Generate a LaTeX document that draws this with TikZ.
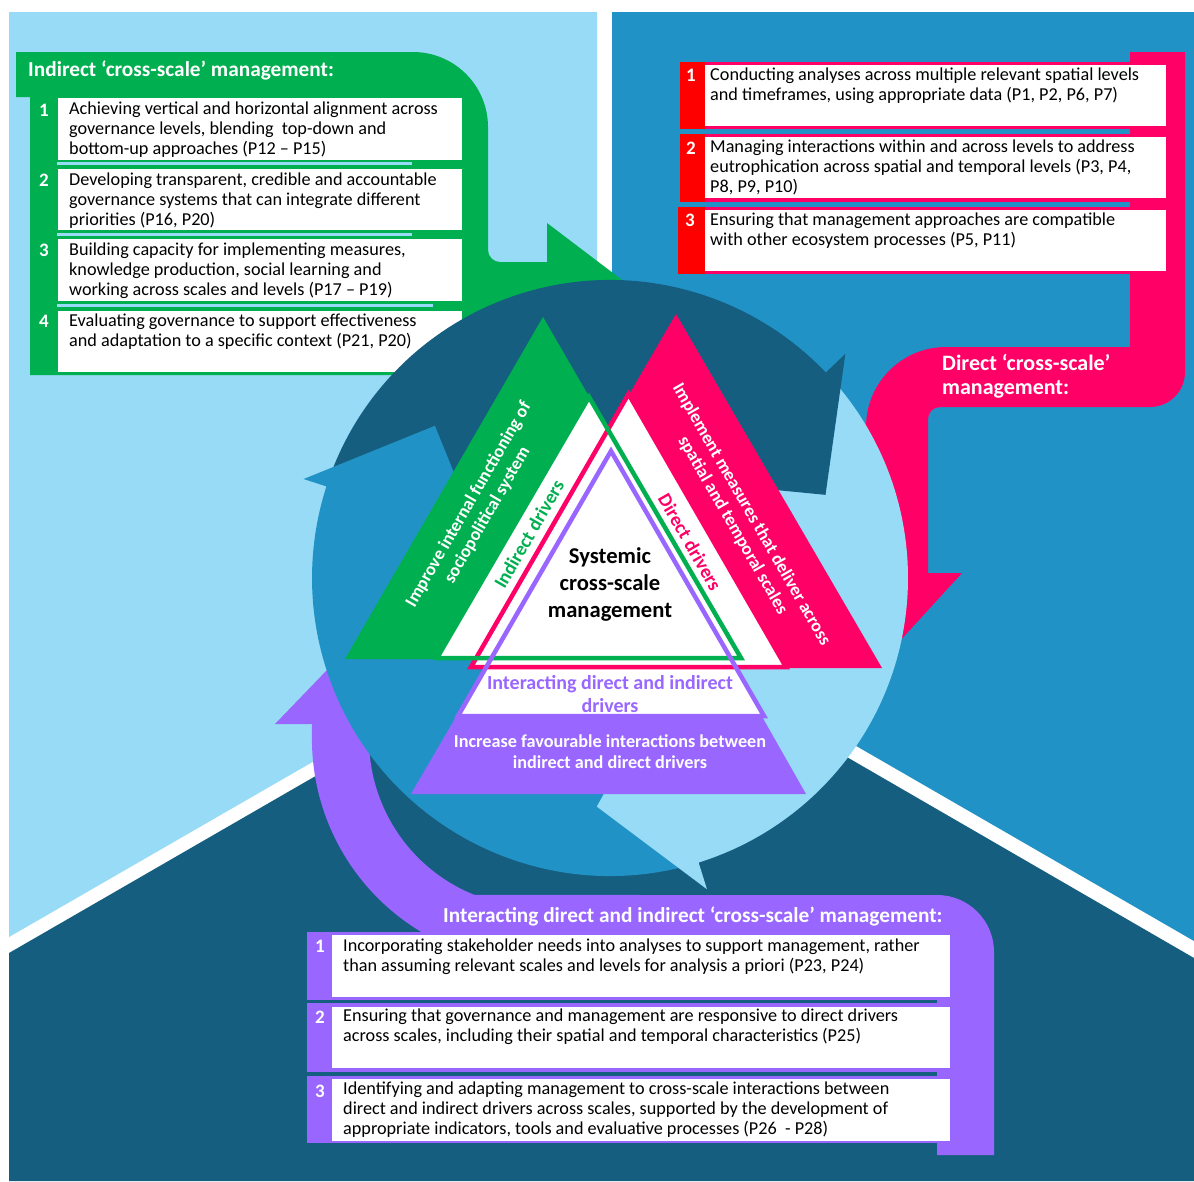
\documentclass[tikz,border=0pt]{standalone}
\usepackage{fontspec}
\setmainfont{Carlito}
\usetikzlibrary{calc}

\definecolor{lightbg}{HTML}{97DBF6}
\definecolor{midbg}{HTML}{2192C6}
\definecolor{darkbg}{HTML}{165E80}
\definecolor{grn}{HTML}{00B050}
\definecolor{pnk}{HTML}{FF0066}
\definecolor{numred}{HTML}{FF0000}
\definecolor{prp}{HTML}{9966FF}

\newcommand\cbody{\fontsize{18.2}{20}\selectfont}
\newcommand\chead{\fontsize{21.3}{24}\selectfont\bfseries}
\newcommand\cpinkhead{\fontsize{22}{24}\selectfont\bfseries}
\newcommand\cnum{\fontsize{19}{20}\selectfont\bfseries}
\newcommand\cside{\fontsize{18}{21.5}\selectfont\bfseries}
\newcommand\cdriver{\fontsize{19.3}{22}\selectfont\bfseries}

\begin{document}
\begin{tikzpicture}[x=1pt,y=-1pt,
  boxtext/.style={anchor=north west, inner sep=0pt, align=left, font=\cbody, text=black},
  numtext/.style={anchor=base, inner sep=0pt, font=\cnum, text=white},
  headtext/.style={inner sep=0pt, align=left, font=\chead, text=white},
  sidetext/.style={inner sep=0pt, align=center, font=\cside, text=white},
  drivertext/.style={inner sep=0pt, align=center, font=\cdriver},
  sepline/.style={draw=lightbg, line width=2.5},
  outline/.style={line width=4.5, line join=miter},
]
\useasboundingbox (0,0) rectangle (1194,1181);

% ---------- background: three regions split by white stripes ----------
\fill[white] (0,0) rectangle (1194,1181);
\fill[lightbg] (9,12) -- (597,12) -- (597,598) -- (9,937) -- cycle;
\fill[midbg] (612,12) -- (1194,12) -- (1194,941) -- (612,605) -- cycle;
\fill[darkbg] (9,953) -- (598,613) -- (1194,958) -- (1194,1181) -- (9,1181) -- cycle;

% ---------- indirect management panel (green) ----------
\fill[grn] (16,52) -- (413,52) arc[start angle=270, end angle=360, radius=75]
  -- (488,250) arc[start angle=180, end angle=90, radius=12]
  -- (547,262) -- (547,223) -- (638,292) -- (547,361) -- (547,322)
  -- (470,322) -- (470,375) -- (30,375) -- (30,97) -- (16,97) -- cycle;
\node[headtext, anchor=base west] (ghead) at (28,76.5) {Indirect ‘cross-scale’ management:};

\fill[white] (58,98) rectangle (462,160);
\fill[white] (58,169) rectangle (462,230);
\fill[white] (58,239) rectangle (462,301);
\fill[white] (58,311) rectangle (462,372);
\draw[sepline] (57,163.5) -- (412,163.5);
\draw[sepline] (57,234.5) -- (412,234.5);
\draw[sepline] (57,305.5) -- (433,305.5);

\node[numtext] (gn1) at (44,116) {1};
\node[numtext] (gn2) at (44,186) {2};
\node[numtext] (gn3) at (44,256.5) {3};
\node[numtext] (gn4) at (44,327.5) {4};

\node[boxtext] (gt1) at (69,100.5) {\strut Achieving vertical and horizontal alignment across\\governance levels, blending~ top-down and\\bottom-up approaches (P12 – P15)};
\node[boxtext] (gt2) at (69,171) {\strut Developing transparent, credible and accountable\\governance systems that can integrate different\\priorities (P16, P20)};
\node[boxtext] (gt3) at (69,241) {\strut Building capacity for implementing measures,\\knowledge production, social learning and\\working across scales and levels (P17 – P19)};
\node[boxtext] (gt4) at (69,312) {\strut Evaluating governance to support effectiveness\\and adaptation to a specific context (P21, P20)};

% ---------- direct management panel (pink) ----------
\fill[pnk] (1130,52) -- (1185,52) -- (1185,372) arc[start angle=0, end angle=90, radius=35]
  -- (940,407) arc[start angle=270, end angle=180, radius=12]
  -- (928,573) -- (962,573) -- (897,644) -- (832,573) -- (866,573)
  -- (866,427) arc[start angle=180, end angle=270, radius=80]
  -- (1130,347) -- cycle;
\node[headtext, font=\cpinkhead, anchor=north west] (phead) at (942,353) {\strut Direct ‘cross-scale’\\management:};

\fill[pnk] (680,62) rectangle (1166,129);
\fill[numred] (680,62) rectangle (705,129);
\fill[white] (705,65) rectangle (1166,126);
\fill[pnk] (680,134) rectangle (1166,202);
\fill[numred] (680,134) rectangle (705,202);
\fill[white] (705,137) rectangle (1166,198);
\fill[pnk] (678,207) rectangle (1166,274);
\fill[numred] (678,207) rectangle (705,274);
\fill[white] (705,210) rectangle (1166,271);

\node[numtext] (pn1) at (691,81) {1};
\node[numtext] (pn2) at (691,154) {2};
\node[numtext] (pn3) at (690,226) {3};

\node[boxtext] (pt1) at (710,66) {\strut Conducting analyses across multiple relevant spatial levels\\and timeframes, using appropriate data (P1, P2, P6, P7)};
\node[boxtext] (pt2) at (710,138.5) {\strut Managing interactions within and across levels to address\\eutrophication across spatial and temporal levels (P3, P4,\\P8, P9, P10)};
\node[boxtext] (pt3) at (710,211) {\strut Ensuring that management approaches are compatible\\with other ecosystem processes (P5, P11)};

% ---------- interacting management panel (purple) ----------
\fill[prp] (275,724) -- (340.5,656) -- (406,724) -- (369,724) -- (369,739)
  arc[start angle=180, end angle=111.8, radius=168]
  -- (937,895) arc[start angle=270, end angle=360, radius=57]
  -- (994,1155) -- (937,1155) -- (937,932) -- (421.4,932)
  arc[start angle=120.9, end angle=180, radius=225]
  -- (312,724) -- cycle;
\node[headtext, anchor=base west] (uhead) at (443,922) {Interacting direct and indirect ‘cross-scale’ management:};

\fill[prp] (307,932) rectangle (950,1000);
\fill[white] (332,935) rectangle (950,997);
\fill[prp] (307,1003) rectangle (950,1072);
\fill[white] (332,1007) rectangle (950,1068);
\fill[prp] (307,1076) rectangle (950,1143);
\fill[white] (332,1079) rectangle (950,1141);

\node[numtext] (un1) at (320,952.5) {1};
\node[numtext] (un2) at (320,1023.5) {2};
\node[numtext] (un3) at (320,1097.5) {3};

\node[boxtext] (ut1) at (343,937) {\strut Incorporating stakeholder needs into analyses to support management, rather\\than assuming relevant scales and levels for analysis a priori (P23, P24)};
\node[boxtext] (ut2) at (343,1007.5) {\strut Ensuring that governance and management are responsive to direct drivers\\across scales, including their spatial and temporal characteristics (P25)};
\node[boxtext] (ut3) at (343,1080.5) {\strut Identifying and adapting management to cross-scale interactions between\\direct and indirect drivers across scales, supported by the development of\\appropriate indicators, tools and evaluative processes (P26~ - P28)};

% ---------- cycle of three curved arrows ----------
\begin{scope}[shift={(610,578)}]
  % sectors
  \fill[darkbg] (0,0) -- (-162.1:298) arc[start angle=-162.1, end angle=-43.6, radius=298] -- cycle;
  \fill[lightbg] (0,0) -- (-43.6:298) arc[start angle=-43.6, end angle=72.7, radius=298] -- cycle;
  \fill[midbg] (0,0) -- (72.7:298) arc[start angle=72.7, end angle=197.9, radius=298] -- cycle;
  % heads, each reaching a little back into its own sector
  \fill[darkbg] (-48:296) -- (-43.6:298) -- (-43.6:325) -- (-21.1:231) -- (-43.6:137) -- (-48:137) -- cycle;
  \fill[lightbg] (68:296) -- (72.7:298) -- (72.7:326) -- (93.3:229) -- (72.7:137) -- (68:137) -- cycle;
  \fill[midbg] (193:296) -- (197.9:298) -- (197.9:322) -- (221:232) -- (197.9:137) -- (193:137) -- cycle;
\end{scope}

% ---------- nested triangles ----------
\fill[grn] (543,317) -- (345,659) -- (741,659) -- cycle;
\fill[pnk] (676,314) -- (470,668) -- (882,668) -- cycle;
\fill[prp] (611,451) -- (411,794) -- (806,794) -- cycle;

\fill[white] (589,397) -- (437,658) -- (741,658) -- cycle;
\fill[white] (628.5,394) -- (471,667) -- (786,667) -- cycle;
\fill[white] (611,451) -- (458,716) -- (764,716) -- cycle;

\draw[pnk, outline] (628.5,394) -- (471,667) -- (786,667) -- cycle;
\draw[grn, outline] (589,397) -- (437,658) -- (741,658) -- cycle;
\draw[prp, outline] (611,451) -- (458,716) -- (764,716) -- cycle;

% ---------- triangle labels ----------
\node[sidetext, rotate=60] (gside) at (478,510) {Improve internal functioning of\\sociopolitical system};
\node[drivertext, text=grn, rotate=60] (gdrv) at (529,534) {Indirect drivers};
\node[sidetext, rotate=-60] (pside) at (742,520) {Implement measures that deliver across\\spatial and temporal scales};
\node[drivertext, text=pnk, rotate=-60] (pdrv) at (690,542) {Direct drivers};

\node[inner sep=0pt, align=center, font=\fontsize{22.6}{27}\selectfont\bfseries, text=black] (core) at (610,584) {Systemic\\cross-scale\\management};

\node[inner sep=0pt, align=center, font=\fontsize{20}{23}\selectfont\bfseries, text=prp] (udrv) at (610,694) {Interacting direct and indirect\\drivers};
\node[inner sep=0pt, align=center, font=\fontsize{18.2}{21}\selectfont\bfseries, text=white] (uside) at (610,752) {Increase favourable interactions between\\indirect and direct drivers};

\end{tikzpicture}
\end{document}
